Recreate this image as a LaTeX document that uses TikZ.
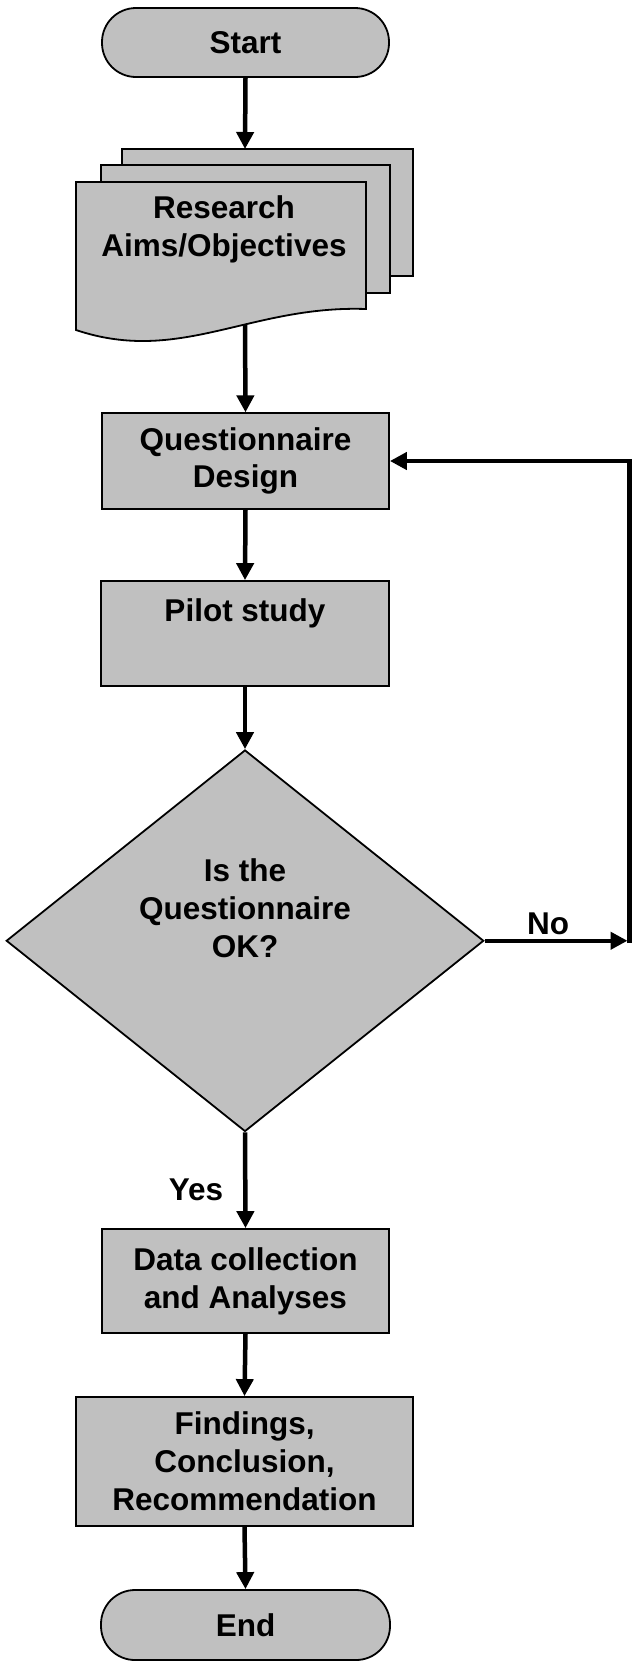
\documentclass[tikz,border=0pt]{standalone}
\usepackage{fontspec}
\setmainfont{Liberation Sans}
\usetikzlibrary{arrows.meta,shapes.geometric}
\definecolor{boxgray}{HTML}{C0C0C0}
\tikzset{
  every node/.style={font=\bfseries\fontsize{31.5}{37.8}\selectfont},
  shapebox/.style={draw=black, fill=boxgray, line width=1.8pt},
  procbox/.style={shapebox, rectangle, align=center, inner sep=0pt},
  termbox/.style={shapebox, rectangle, rounded corners=34pt, inner sep=0pt},
  decision/.style={shapebox, diamond, inner sep=0pt},
  txt/.style={align=center, inner sep=0pt},
  flow/.style={line width=4.5pt, -{Triangle[length=17pt,width=17pt]}},
  flowline/.style={line width=4.5pt}
}
\begin{document}
\begin{tikzpicture}[x=1pt,y=-1pt]
\useasboundingbox (0,0) rectangle (632,1663);

% terminators
\node[termbox, minimum width=287pt, minimum height=69pt] (start) at (245.5,42.5) {Start};
\node[termbox, minimum width=289pt, minimum height=70pt] (end) at (245.5,1625) {End};

% stacked documents
\draw[shapebox] (122,149) rectangle (413,276);
\draw[shapebox] (101,165) rectangle (390,293);
\draw[shapebox] (76,182) -- (366,182) -- (366,309)
  .. controls (250,305) and (180,365) .. (76,330) -- cycle;
\node[txt] (doc) at (224,229) {Research\\Aims/Objectives};
\coordinate (doctop) at (245,149);
\coordinate (docbot) at (245,325);

% process boxes
\node[procbox, minimum width=287pt, minimum height=95.5pt] (qd) at (245.5,461) {Questionnaire\\Design};
\node[procbox, minimum width=288pt, minimum height=105pt] (pilot) at (245,633.5) {};
\node[txt] (pilottext) at (245,613) {Pilot study};
\node[procbox, minimum width=287pt, minimum height=104pt] (dc) at (245.5,1281) {Data collection\\and Analyses};
\node[procbox, minimum width=337pt, minimum height=129pt] (fc) at (244.5,1461.5) {Findings,\\Conclusion,\\Recommendation};

% decision
\node[decision, minimum width=477.5pt, minimum height=381.5pt] (dia) at (245,940.75) {};
\node[txt] (diatext) at (245,908) {Is the\\Questionnaire\\OK?};

% labels
\node[txt] (nolabel) at (548,924) {No};
\node[txt] (yeslabel) at (196,1190) {Yes};

% connectors
\draw[flow] (start.south) -- (doctop);
\draw[flow] (docbot) -- (qd.north);
\draw[flow] (qd.south) -- (pilot.north);
\draw[flow] (pilot.south) -- (dia.north);
\draw[flow] (dia.south) -- (dc.north);
\draw[flow] (dc.south) -- (fc.north);
\draw[flow] (fc.south) -- (end.north);

% loop back for "No"
\coordinate (noend) at (627.5,940.75);
\coordinate (loopbot) at (629.5,943);
\coordinate (looptop) at (629.5,461);
\draw[flow] (dia.east) -- (noend);
\draw[flow, line join=miter] (loopbot) -- (looptop) -- (qd.east);
\end{tikzpicture}
\end{document}
